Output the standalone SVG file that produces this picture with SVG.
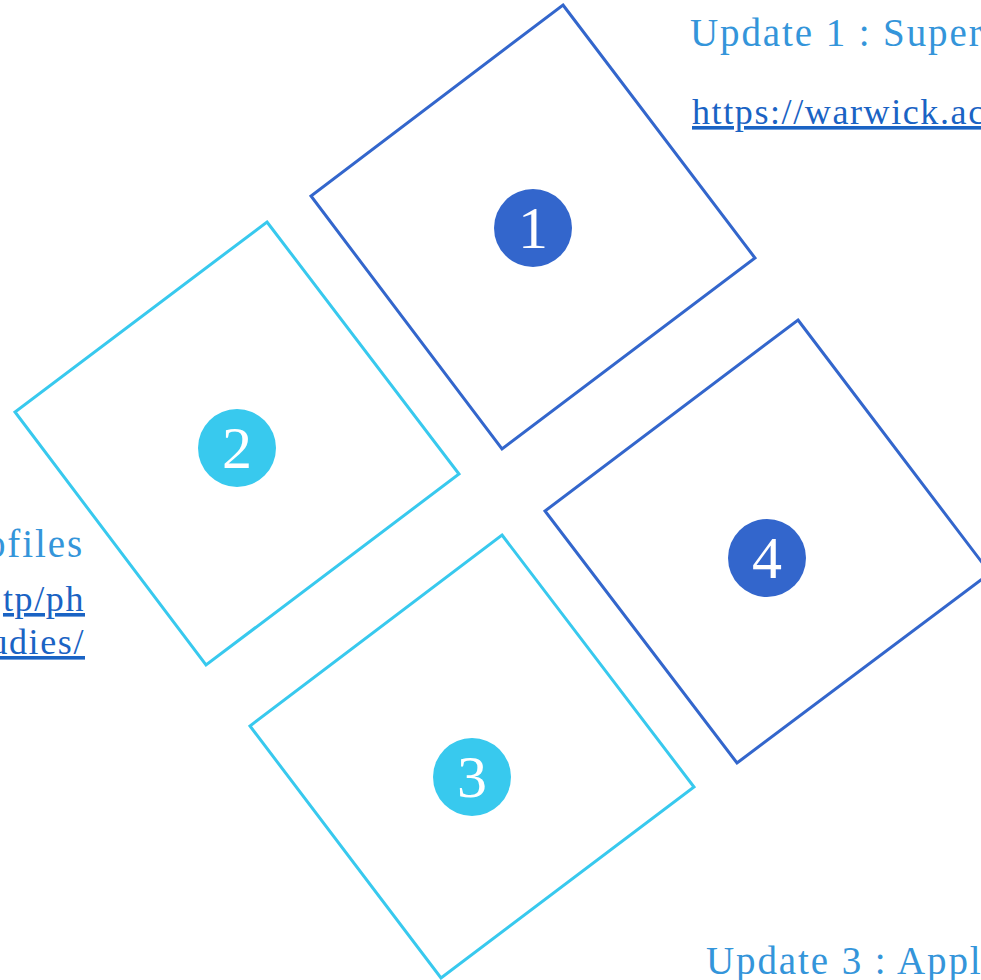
<svg xmlns="http://www.w3.org/2000/svg" width="981" height="980" viewBox="0 0 981 980">
<style>
.sq{fill:none;stroke-width:3;stroke-linejoin:miter}
.dk{stroke:#3366CC}
.lt{stroke:#38C9EE}
.cd{fill:#3366CC}
.cl{fill:#38C9EE}
.num{font-family:"Liberation Serif",serif;font-size:60px;fill:#ffffff;text-anchor:middle}
.ttl{font-family:"Liberation Serif",serif;font-size:39px;fill:#3495DA;letter-spacing:1.9px}
.lnk{font-family:"Liberation Serif",serif;font-size:36px;fill:#1A63C4;text-decoration:underline;letter-spacing:1.6px}
</style>
<rect width="981" height="980" fill="#ffffff"/>
<g id="node1">
<polygon class="sq dk" points="563,5 755,258 502,449 311,196"/>
<circle class="cd" cx="533" cy="228" r="39"/>
<text class="num" x="533" y="248">1</text>
</g>
<g id="node2">
<polygon class="sq lt" points="267,222 459,474 206,665 15,412"/>
<circle class="cl" cx="237" cy="448" r="39"/>
<text class="num" x="237" y="468">2</text>
</g>
<g id="node3">
<polygon class="sq lt" points="502,535 694,787 441,978 250,726"/>
<circle class="cl" cx="472" cy="777" r="39"/>
<text class="num" x="472" y="797">3</text>
</g>
<g id="node4">
<polygon class="sq dk" points="798,320 990,573 737,763 545,511"/>
<circle class="cd" cx="767" cy="558" r="39"/>
<text class="num" x="767" y="578">4</text>
</g>
<g id="texts">
<text class="ttl" x="690" y="46">Update 1 : Super</text>
<text class="lnk" x="692" y="124">https://warwick.ac</text>
<text class="ttl" x="84" y="557" text-anchor="end">ofiles</text>
<text class="lnk" x="85" y="611" text-anchor="end">tp/ph</text>
<text class="lnk" x="85" y="654" text-anchor="end">udies/</text>
<text class="ttl" x="706" y="974">Update 3 : Appl</text>
</g>
<g id="connectors"></g>
</svg>
